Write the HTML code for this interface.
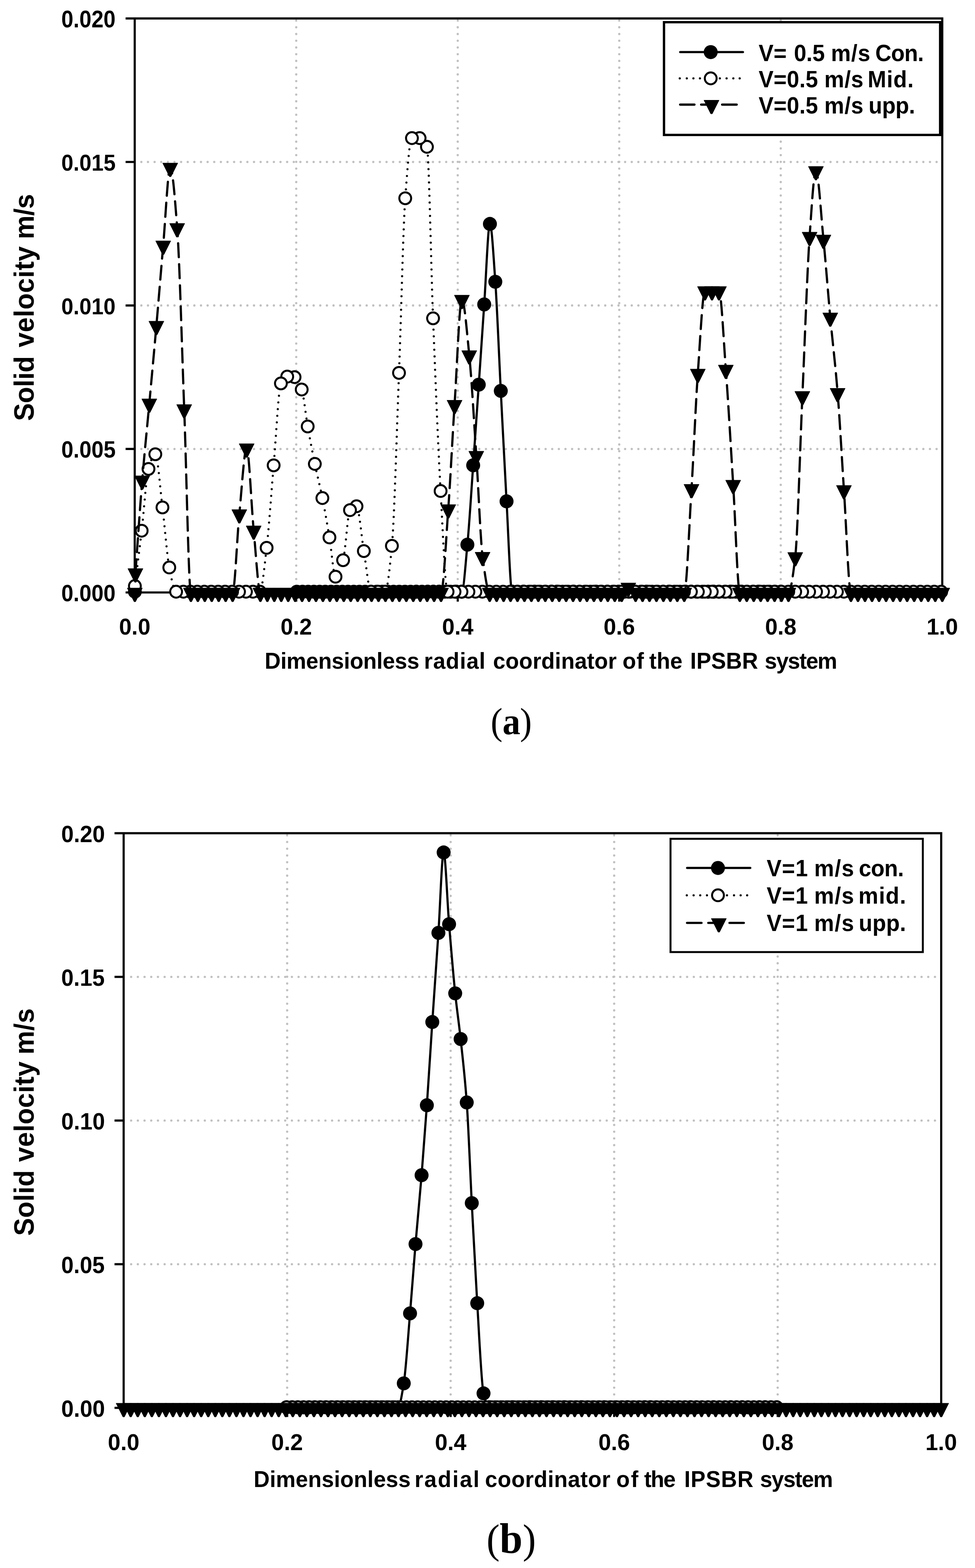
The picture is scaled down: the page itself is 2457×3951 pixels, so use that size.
<!DOCTYPE html>
<html lang="en"><head><meta charset="utf-8"><title>Solid velocity vs dimensionless radial coordinator of the IPSBR system</title>
<style>html,body{margin:0;padding:0;background:#fff}svg{display:block}text{fill:#000}</style></head><body>
<svg width="2457" height="3951" viewBox="0 0 2457 3951">
<rect width="2457" height="3951" fill="#fff"/>
<g id="ca">
<clipPath id="clipca"><rect x="339.5" y="46.5" width="2035" height="1447.9"/></clipPath>
<path d="M356.19 408.1H2368.5M356.19 769.7H2368.5M356.19 1131.3H2368.5" fill="none" stroke="#c0c0c0" stroke-width="5.7" stroke-linecap="round" stroke-dasharray="0.01 16.69"/>
<path d="M746.5 1475.96V49M1153.5 1475.96V49M1560.5 1475.96V49M1967.5 1475.96V49" fill="none" stroke="#c0c0c0" stroke-width="5.7" stroke-linecap="round" stroke-dasharray="0.01 16.945"/>
<path d="M339.5 46.5V1492.9M316.5 46.5H2374.5M2374.5 43.8V1492.9M339.5 1492.9H2374.5M316.5 408.1H339.5M316.5 769.7H339.5M316.5 1131.3H339.5M316.5 1492.9H339.5M746.5 1492.9v23M1153.5 1492.9v23M1560.5 1492.9v23M1967.5 1492.9v23" fill="none" stroke="#000" stroke-width="5.4" stroke-linecap="butt"/>
<path d="M748 1491L1163.7 1491C1168.4 1491 1173.1 1421.39 1177.8 1372.4C1182.67 1321.68 1187.53 1240.74 1192.4 1172.4C1197.1 1106.4 1201.8 1037.82 1206.5 969.3C1211.07 902.72 1215.63 832.94 1220.2 767.1C1225 697.9 1229.8 564.2 1234.6 564.2C1239.13 564.2 1243.67 646.81 1248.2 710C1252.8 774.12 1257.4 894.97 1262 984.9C1266.83 1079.39 1271.67 1178.4 1276.5 1263.2C1281.2 1345.66 1285.9 1491 1290.6 1491L1967.5 1491" clip-path="url(#clipca)" fill="none" stroke="#000" stroke-width="5.5" stroke-linejoin="round"/>
<path d="M730.4 1491a17.6 17.6 0 1 0 35.2 0a17.6 17.6 0 1 0 -35.2 0zM744.73 1491a17.6 17.6 0 1 0 35.2 0a17.6 17.6 0 1 0 -35.2 0zM759.07 1491a17.6 17.6 0 1 0 35.2 0a17.6 17.6 0 1 0 -35.2 0zM773.4 1491a17.6 17.6 0 1 0 35.2 0a17.6 17.6 0 1 0 -35.2 0zM787.74 1491a17.6 17.6 0 1 0 35.2 0a17.6 17.6 0 1 0 -35.2 0zM802.07 1491a17.6 17.6 0 1 0 35.2 0a17.6 17.6 0 1 0 -35.2 0zM816.41 1491a17.6 17.6 0 1 0 35.2 0a17.6 17.6 0 1 0 -35.2 0zM830.74 1491a17.6 17.6 0 1 0 35.2 0a17.6 17.6 0 1 0 -35.2 0zM845.08 1491a17.6 17.6 0 1 0 35.2 0a17.6 17.6 0 1 0 -35.2 0zM859.41 1491a17.6 17.6 0 1 0 35.2 0a17.6 17.6 0 1 0 -35.2 0zM873.74 1491a17.6 17.6 0 1 0 35.2 0a17.6 17.6 0 1 0 -35.2 0zM888.08 1491a17.6 17.6 0 1 0 35.2 0a17.6 17.6 0 1 0 -35.2 0zM902.41 1491a17.6 17.6 0 1 0 35.2 0a17.6 17.6 0 1 0 -35.2 0zM916.75 1491a17.6 17.6 0 1 0 35.2 0a17.6 17.6 0 1 0 -35.2 0zM931.08 1491a17.6 17.6 0 1 0 35.2 0a17.6 17.6 0 1 0 -35.2 0zM945.42 1491a17.6 17.6 0 1 0 35.2 0a17.6 17.6 0 1 0 -35.2 0zM959.75 1491a17.6 17.6 0 1 0 35.2 0a17.6 17.6 0 1 0 -35.2 0zM974.09 1491a17.6 17.6 0 1 0 35.2 0a17.6 17.6 0 1 0 -35.2 0zM988.42 1491a17.6 17.6 0 1 0 35.2 0a17.6 17.6 0 1 0 -35.2 0zM1002.76 1491a17.6 17.6 0 1 0 35.2 0a17.6 17.6 0 1 0 -35.2 0zM1017.09 1491a17.6 17.6 0 1 0 35.2 0a17.6 17.6 0 1 0 -35.2 0zM1031.42 1491a17.6 17.6 0 1 0 35.2 0a17.6 17.6 0 1 0 -35.2 0zM1045.76 1491a17.6 17.6 0 1 0 35.2 0a17.6 17.6 0 1 0 -35.2 0zM1060.09 1491a17.6 17.6 0 1 0 35.2 0a17.6 17.6 0 1 0 -35.2 0zM1074.43 1491a17.6 17.6 0 1 0 35.2 0a17.6 17.6 0 1 0 -35.2 0zM1088.76 1491a17.6 17.6 0 1 0 35.2 0a17.6 17.6 0 1 0 -35.2 0zM1103.1 1491a17.6 17.6 0 1 0 35.2 0a17.6 17.6 0 1 0 -35.2 0zM1117.43 1491a17.6 17.6 0 1 0 35.2 0a17.6 17.6 0 1 0 -35.2 0zM1131.77 1491a17.6 17.6 0 1 0 35.2 0a17.6 17.6 0 1 0 -35.2 0zM1146.1 1491a17.6 17.6 0 1 0 35.2 0a17.6 17.6 0 1 0 -35.2 0zM1160.2 1372.4a17.6 17.6 0 1 0 35.2 0a17.6 17.6 0 1 0 -35.2 0zM1174.8 1172.4a17.6 17.6 0 1 0 35.2 0a17.6 17.6 0 1 0 -35.2 0zM1188.9 969.3a17.6 17.6 0 1 0 35.2 0a17.6 17.6 0 1 0 -35.2 0zM1202.6 767.1a17.6 17.6 0 1 0 35.2 0a17.6 17.6 0 1 0 -35.2 0zM1217 564.2a17.6 17.6 0 1 0 35.2 0a17.6 17.6 0 1 0 -35.2 0zM1230.6 710a17.6 17.6 0 1 0 35.2 0a17.6 17.6 0 1 0 -35.2 0zM1244.4 984.9a17.6 17.6 0 1 0 35.2 0a17.6 17.6 0 1 0 -35.2 0zM1258.9 1263.2a17.6 17.6 0 1 0 35.2 0a17.6 17.6 0 1 0 -35.2 0zM1273 1491a17.6 17.6 0 1 0 35.2 0a17.6 17.6 0 1 0 -35.2 0zM1287.1 1491a17.6 17.6 0 1 0 35.2 0a17.6 17.6 0 1 0 -35.2 0zM1301.2 1491a17.6 17.6 0 1 0 35.2 0a17.6 17.6 0 1 0 -35.2 0zM1315.31 1491a17.6 17.6 0 1 0 35.2 0a17.6 17.6 0 1 0 -35.2 0zM1329.41 1491a17.6 17.6 0 1 0 35.2 0a17.6 17.6 0 1 0 -35.2 0zM1343.51 1491a17.6 17.6 0 1 0 35.2 0a17.6 17.6 0 1 0 -35.2 0zM1357.61 1491a17.6 17.6 0 1 0 35.2 0a17.6 17.6 0 1 0 -35.2 0zM1371.71 1491a17.6 17.6 0 1 0 35.2 0a17.6 17.6 0 1 0 -35.2 0zM1385.82 1491a17.6 17.6 0 1 0 35.2 0a17.6 17.6 0 1 0 -35.2 0zM1399.92 1491a17.6 17.6 0 1 0 35.2 0a17.6 17.6 0 1 0 -35.2 0zM1414.02 1491a17.6 17.6 0 1 0 35.2 0a17.6 17.6 0 1 0 -35.2 0zM1428.12 1491a17.6 17.6 0 1 0 35.2 0a17.6 17.6 0 1 0 -35.2 0zM1442.22 1491a17.6 17.6 0 1 0 35.2 0a17.6 17.6 0 1 0 -35.2 0zM1456.33 1491a17.6 17.6 0 1 0 35.2 0a17.6 17.6 0 1 0 -35.2 0zM1470.43 1491a17.6 17.6 0 1 0 35.2 0a17.6 17.6 0 1 0 -35.2 0zM1484.53 1491a17.6 17.6 0 1 0 35.2 0a17.6 17.6 0 1 0 -35.2 0zM1498.63 1491a17.6 17.6 0 1 0 35.2 0a17.6 17.6 0 1 0 -35.2 0zM1512.74 1491a17.6 17.6 0 1 0 35.2 0a17.6 17.6 0 1 0 -35.2 0zM1526.84 1491a17.6 17.6 0 1 0 35.2 0a17.6 17.6 0 1 0 -35.2 0zM1540.94 1491a17.6 17.6 0 1 0 35.2 0a17.6 17.6 0 1 0 -35.2 0zM1555.04 1491a17.6 17.6 0 1 0 35.2 0a17.6 17.6 0 1 0 -35.2 0zM1569.14 1491a17.6 17.6 0 1 0 35.2 0a17.6 17.6 0 1 0 -35.2 0zM1583.25 1491a17.6 17.6 0 1 0 35.2 0a17.6 17.6 0 1 0 -35.2 0zM1597.35 1491a17.6 17.6 0 1 0 35.2 0a17.6 17.6 0 1 0 -35.2 0zM1611.45 1491a17.6 17.6 0 1 0 35.2 0a17.6 17.6 0 1 0 -35.2 0zM1625.55 1491a17.6 17.6 0 1 0 35.2 0a17.6 17.6 0 1 0 -35.2 0zM1639.65 1491a17.6 17.6 0 1 0 35.2 0a17.6 17.6 0 1 0 -35.2 0zM1653.76 1491a17.6 17.6 0 1 0 35.2 0a17.6 17.6 0 1 0 -35.2 0zM1667.86 1491a17.6 17.6 0 1 0 35.2 0a17.6 17.6 0 1 0 -35.2 0zM1681.96 1491a17.6 17.6 0 1 0 35.2 0a17.6 17.6 0 1 0 -35.2 0zM1696.06 1491a17.6 17.6 0 1 0 35.2 0a17.6 17.6 0 1 0 -35.2 0zM1710.16 1491a17.6 17.6 0 1 0 35.2 0a17.6 17.6 0 1 0 -35.2 0zM1724.27 1491a17.6 17.6 0 1 0 35.2 0a17.6 17.6 0 1 0 -35.2 0zM1738.37 1491a17.6 17.6 0 1 0 35.2 0a17.6 17.6 0 1 0 -35.2 0zM1752.47 1491a17.6 17.6 0 1 0 35.2 0a17.6 17.6 0 1 0 -35.2 0zM1766.57 1491a17.6 17.6 0 1 0 35.2 0a17.6 17.6 0 1 0 -35.2 0zM1780.68 1491a17.6 17.6 0 1 0 35.2 0a17.6 17.6 0 1 0 -35.2 0zM1794.78 1491a17.6 17.6 0 1 0 35.2 0a17.6 17.6 0 1 0 -35.2 0zM1808.88 1491a17.6 17.6 0 1 0 35.2 0a17.6 17.6 0 1 0 -35.2 0zM1822.98 1491a17.6 17.6 0 1 0 35.2 0a17.6 17.6 0 1 0 -35.2 0zM1837.08 1491a17.6 17.6 0 1 0 35.2 0a17.6 17.6 0 1 0 -35.2 0zM1851.19 1491a17.6 17.6 0 1 0 35.2 0a17.6 17.6 0 1 0 -35.2 0zM1865.29 1491a17.6 17.6 0 1 0 35.2 0a17.6 17.6 0 1 0 -35.2 0zM1879.39 1491a17.6 17.6 0 1 0 35.2 0a17.6 17.6 0 1 0 -35.2 0zM1893.49 1491a17.6 17.6 0 1 0 35.2 0a17.6 17.6 0 1 0 -35.2 0zM1907.59 1491a17.6 17.6 0 1 0 35.2 0a17.6 17.6 0 1 0 -35.2 0zM1921.7 1491a17.6 17.6 0 1 0 35.2 0a17.6 17.6 0 1 0 -35.2 0zM1935.8 1491a17.6 17.6 0 1 0 35.2 0a17.6 17.6 0 1 0 -35.2 0zM1949.9 1491a17.6 17.6 0 1 0 35.2 0a17.6 17.6 0 1 0 -35.2 0z" fill="#000"/>
<path d="M339.9 1476.7C345.6 1430.23 351.3 1386.2 357 1337.3C362.73 1288.12 368.47 1201.53 374.2 1181.6C379.93 1161.67 385.67 1144.6 391.4 1144.6C397.4 1144.6 403.4 1230.21 409.4 1278.6C415.13 1324.83 420.87 1400.88 426.6 1429.9C432.33 1458.92 438.07 1491 443.8 1491L654.86 1491C660.54 1491 666.22 1427.88 671.9 1380.4C677.8 1331.08 683.7 1240.49 689.6 1172.6C695.7 1102.4 701.8 978.14 707.9 966.1C713.2 955.64 718.5 948.9 723.8 948.9C729.97 948.9 736.13 949.41 742.3 950.3C748.3 951.17 754.3 965.26 760.3 981.5C765.33 995.12 770.37 1046.07 775.4 1074.6C781.4 1108.61 787.4 1139.85 793.4 1169C799.73 1199.77 806.07 1223.36 812.4 1255C818.33 1284.64 824.27 1318.67 830.2 1354.2C835.3 1384.74 840.4 1453.2 845.5 1453.2C851.87 1453.2 858.23 1432.93 864.6 1411.6C870.4 1392.17 876.2 1291.74 882 1285.4C887.47 1279.42 892.93 1275.7 898.4 1275.7C904.57 1275.7 910.73 1352.58 916.9 1388.6C922.99 1424.19 929.09 1491 935.18 1491L970.22 1491C976.01 1491 981.81 1435.93 987.6 1375.4C993.57 1313.06 999.53 1095.07 1005.5 939.6C1010.73 803.24 1015.97 570.72 1021.2 499.6C1026.83 423.04 1032.47 348 1038.1 348L1057.4 348C1063.57 348 1069.73 355.93 1075.9 370C1081.03 381.71 1086.17 672.65 1091.3 802.1C1097.63 961.81 1103.97 1125.12 1110.3 1237.2C1116.17 1341.02 1122.03 1491 1127.9 1491L2371.82 1491" clip-path="url(#clipca)" fill="none" stroke="#000" stroke-width="5.5" stroke-linecap="round" stroke-dasharray="0.01 16.85"/>
<g fill="#fff" stroke="#000" stroke-width="5.0">
<circle cx="2371.82" cy="1491" r="14.9"/>
<circle cx="2354.3" cy="1491" r="14.9"/>
<circle cx="2336.78" cy="1491" r="14.9"/>
<circle cx="2319.26" cy="1491" r="14.9"/>
<circle cx="2301.74" cy="1491" r="14.9"/>
<circle cx="2284.22" cy="1491" r="14.9"/>
<circle cx="2266.7" cy="1491" r="14.9"/>
<circle cx="2249.18" cy="1491" r="14.9"/>
<circle cx="2231.66" cy="1491" r="14.9"/>
<circle cx="2214.14" cy="1491" r="14.9"/>
<circle cx="2196.62" cy="1491" r="14.9"/>
<circle cx="2179.1" cy="1491" r="14.9"/>
<circle cx="2161.58" cy="1491" r="14.9"/>
<circle cx="2144.06" cy="1491" r="14.9"/>
<circle cx="2126.54" cy="1491" r="14.9"/>
<circle cx="2109.02" cy="1491" r="14.9"/>
<circle cx="2091.5" cy="1491" r="14.9"/>
<circle cx="2073.98" cy="1491" r="14.9"/>
<circle cx="2056.46" cy="1491" r="14.9"/>
<circle cx="2038.94" cy="1491" r="14.9"/>
<circle cx="2021.42" cy="1491" r="14.9"/>
<circle cx="2003.9" cy="1491" r="14.9"/>
<circle cx="1986.38" cy="1491" r="14.9"/>
<circle cx="1968.86" cy="1491" r="14.9"/>
<circle cx="1951.34" cy="1491" r="14.9"/>
<circle cx="1933.82" cy="1491" r="14.9"/>
<circle cx="1916.3" cy="1491" r="14.9"/>
<circle cx="1898.78" cy="1491" r="14.9"/>
<circle cx="1881.26" cy="1491" r="14.9"/>
<circle cx="1863.74" cy="1491" r="14.9"/>
<circle cx="1846.22" cy="1491" r="14.9"/>
<circle cx="1828.7" cy="1491" r="14.9"/>
<circle cx="1811.18" cy="1491" r="14.9"/>
<circle cx="1793.66" cy="1491" r="14.9"/>
<circle cx="1776.14" cy="1491" r="14.9"/>
<circle cx="1758.62" cy="1491" r="14.9"/>
<circle cx="1741.1" cy="1491" r="14.9"/>
<circle cx="1723.58" cy="1491" r="14.9"/>
<circle cx="1706.06" cy="1491" r="14.9"/>
<circle cx="1688.54" cy="1491" r="14.9"/>
<circle cx="1671.02" cy="1491" r="14.9"/>
<circle cx="1653.5" cy="1491" r="14.9"/>
<circle cx="1635.98" cy="1491" r="14.9"/>
<circle cx="1618.46" cy="1491" r="14.9"/>
<circle cx="1600.94" cy="1491" r="14.9"/>
<circle cx="1583.42" cy="1491" r="14.9"/>
<circle cx="1565.9" cy="1491" r="14.9"/>
<circle cx="1548.38" cy="1491" r="14.9"/>
<circle cx="1530.86" cy="1491" r="14.9"/>
<circle cx="1513.34" cy="1491" r="14.9"/>
<circle cx="1495.82" cy="1491" r="14.9"/>
<circle cx="1478.3" cy="1491" r="14.9"/>
<circle cx="1460.78" cy="1491" r="14.9"/>
<circle cx="1443.26" cy="1491" r="14.9"/>
<circle cx="1425.74" cy="1491" r="14.9"/>
<circle cx="1408.22" cy="1491" r="14.9"/>
<circle cx="1390.7" cy="1491" r="14.9"/>
<circle cx="1373.18" cy="1491" r="14.9"/>
<circle cx="1355.66" cy="1491" r="14.9"/>
<circle cx="1338.14" cy="1491" r="14.9"/>
<circle cx="1320.62" cy="1491" r="14.9"/>
<circle cx="1303.1" cy="1491" r="14.9"/>
<circle cx="1285.58" cy="1491" r="14.9"/>
<circle cx="1268.06" cy="1491" r="14.9"/>
<circle cx="1250.54" cy="1491" r="14.9"/>
<circle cx="1233.02" cy="1491" r="14.9"/>
<circle cx="1215.5" cy="1491" r="14.9"/>
<circle cx="1197.98" cy="1491" r="14.9"/>
<circle cx="1180.46" cy="1491" r="14.9"/>
<circle cx="1162.94" cy="1491" r="14.9"/>
<circle cx="1145.42" cy="1491" r="14.9"/>
<circle cx="1127.9" cy="1491" r="14.9"/>
<circle cx="1110.3" cy="1237.2" r="14.9"/>
<circle cx="1091.3" cy="802.1" r="14.9"/>
<circle cx="1075.9" cy="370" r="14.9"/>
<circle cx="1057.4" cy="348" r="14.9"/>
<circle cx="1038.1" cy="348" r="14.9"/>
<circle cx="1021.2" cy="499.6" r="14.9"/>
<circle cx="1005.5" cy="939.6" r="14.9"/>
<circle cx="987.6" cy="1375.4" r="14.9"/>
<circle cx="970.22" cy="1491" r="14.9"/>
<circle cx="952.7" cy="1491" r="14.9"/>
<circle cx="935.18" cy="1491" r="14.9"/>
<circle cx="916.9" cy="1388.6" r="14.9"/>
<circle cx="898.4" cy="1275.7" r="14.9"/>
<circle cx="882" cy="1285.4" r="14.9"/>
<circle cx="864.6" cy="1411.6" r="14.9"/>
<circle cx="845.5" cy="1453.2" r="14.9"/>
<circle cx="830.2" cy="1354.2" r="14.9"/>
<circle cx="812.4" cy="1255" r="14.9"/>
<circle cx="793.4" cy="1169" r="14.9"/>
<circle cx="775.4" cy="1074.6" r="14.9"/>
<circle cx="760.3" cy="981.5" r="14.9"/>
<circle cx="742.3" cy="950.3" r="14.9"/>
<circle cx="723.8" cy="948.9" r="14.9"/>
<circle cx="707.9" cy="966.1" r="14.9"/>
<circle cx="689.6" cy="1172.6" r="14.9"/>
<circle cx="671.9" cy="1380.4" r="14.9"/>
<circle cx="654.86" cy="1491" r="14.9"/>
<circle cx="637.34" cy="1491" r="14.9"/>
<circle cx="619.82" cy="1491" r="14.9"/>
<circle cx="602.3" cy="1491" r="14.9"/>
<circle cx="584.78" cy="1491" r="14.9"/>
<circle cx="567.26" cy="1491" r="14.9"/>
<circle cx="549.74" cy="1491" r="14.9"/>
<circle cx="532.22" cy="1491" r="14.9"/>
<circle cx="514.7" cy="1491" r="14.9"/>
<circle cx="497.18" cy="1491" r="14.9"/>
<circle cx="479.66" cy="1491" r="14.9"/>
<circle cx="462.14" cy="1491" r="14.9"/>
<circle cx="443.8" cy="1491" r="14.9"/>
<circle cx="426.6" cy="1429.9" r="14.9"/>
<circle cx="409.4" cy="1278.6" r="14.9"/>
<circle cx="391.4" cy="1144.6" r="14.9"/>
<circle cx="374.2" cy="1181.6" r="14.9"/>
<circle cx="357" cy="1337.3" r="14.9"/>
<circle cx="339.9" cy="1491" r="14.9"/>
<circle cx="339.9" cy="1476.7" r="14.9"/>
</g>
<path d="M341.3 1443.9C347 1365.97 352.7 1279 358.4 1210.1C364.37 1137.98 370.33 1081.33 376.3 1016.2C382.23 951.43 388.17 887.85 394.1 820.4C399.83 755.22 405.57 683.52 411.3 618.1C417.2 550.78 423.1 422 429 422C434.83 422 440.67 498.26 446.5 574.1C452.4 650.8 458.3 873.77 464.2 1030.5C469.83 1179.97 475.45 1492.9 481.08 1492.9L586.14 1492.9C591.79 1492.9 597.45 1352.53 603.1 1295.2C609.27 1232.67 615.43 1129.2 621.6 1129.2C627.5 1129.2 633.4 1275.13 639.3 1336.2C644.93 1394.44 650.55 1492.9 656.18 1492.9L1111.44 1492.9C1117.49 1492.9 1123.55 1365.14 1129.6 1282.7C1134.9 1210.52 1140.2 1101.04 1145.5 1019.7C1151.67 925.06 1157.83 754.9 1164 754.9C1170.17 754.9 1176.33 833.74 1182.5 894.6C1188.43 953.16 1194.37 1058.4 1200.3 1148.1C1205.57 1227.72 1210.83 1362.15 1216.1 1402.6C1222.07 1448.45 1228.04 1492.9 1234.01 1492.9L1566.7 1492.9C1572.27 1492.9 1577.83 1480.1 1583.4 1480.1C1589.51 1480.1 1595.61 1492.9 1601.72 1492.9L1724.29 1492.9C1730.39 1492.9 1736.5 1329.41 1742.6 1231.6C1747.9 1146.67 1753.2 1015.88 1758.5 941.1C1764.53 855.98 1770.57 733.1 1776.6 733.1L1811.8 733.1C1817.57 733.1 1823.33 854.72 1829.1 931C1835.27 1012.58 1841.43 1122.8 1847.6 1221.1C1853.19 1310.2 1858.78 1492.9 1864.37 1492.9L1986.94 1492.9C1992.63 1492.9 1998.31 1451.69 2004 1403.2C2010 1352.04 2016 1131.06 2022 997.3C2028.07 862.05 2034.13 681.92 2040.2 596.1C2045.5 521.12 2050.8 430.5 2056.1 430.5C2062.43 430.5 2068.77 539.11 2075.1 603.2C2080.83 661.22 2086.57 737.5 2092.3 799.5C2098.47 866.19 2104.63 913.61 2110.8 989.6C2116.1 1054.91 2121.4 1154.85 2126.7 1234.3C2132.6 1322.74 2138.5 1492.9 2144.4 1492.9L2374.5 1492.9" clip-path="url(#clipca)" fill="none" stroke="#000" stroke-width="5.6" stroke-linecap="round" stroke-dasharray="35 18"/>
<path d="M320.7 1481.8h38.2L341.7 1516.2h-3.8zM322.2 1432.8h38.2L343.2 1467.2h-3.8zM339.3 1199h38.2L360.3 1233.4h-3.8zM357.2 1005.1h38.2L378.2 1039.5h-3.8zM375 809.3h38.2L396 843.7h-3.8zM392.2 607h38.2L413.2 641.4h-3.8zM409.9 410.9h38.2L430.9 445.3h-3.8zM427.4 563h38.2L448.4 597.4h-3.8zM445.1 1019.4h38.2L466.1 1053.8h-3.8zM461.98 1481.8h38.2L482.98 1516.2h-3.8zM479.49 1481.8h38.2L500.49 1516.2h-3.8zM497 1481.8h38.2L518 1516.2h-3.8zM514.51 1481.8h38.2L535.51 1516.2h-3.8zM532.02 1481.8h38.2L553.02 1516.2h-3.8zM549.53 1481.8h38.2L570.53 1516.2h-3.8zM567.04 1481.8h38.2L588.04 1516.2h-3.8zM584 1284.1h38.2L605 1318.5h-3.8zM602.5 1118.1h38.2L623.5 1152.5h-3.8zM620.2 1325.1h38.2L641.2 1359.5h-3.8zM637.08 1481.8h38.2L658.08 1516.2h-3.8zM654.59 1481.8h38.2L675.59 1516.2h-3.8zM672.1 1481.8h38.2L693.1 1516.2h-3.8zM689.61 1481.8h38.2L710.61 1516.2h-3.8zM707.12 1481.8h38.2L728.12 1516.2h-3.8zM724.63 1481.8h38.2L745.63 1516.2h-3.8zM742.14 1481.8h38.2L763.14 1516.2h-3.8zM759.65 1481.8h38.2L780.65 1516.2h-3.8zM777.16 1481.8h38.2L798.16 1516.2h-3.8zM794.67 1481.8h38.2L815.67 1516.2h-3.8zM812.18 1481.8h38.2L833.18 1516.2h-3.8zM829.69 1481.8h38.2L850.69 1516.2h-3.8zM847.2 1481.8h38.2L868.2 1516.2h-3.8zM864.71 1481.8h38.2L885.71 1516.2h-3.8zM882.22 1481.8h38.2L903.22 1516.2h-3.8zM899.73 1481.8h38.2L920.73 1516.2h-3.8zM917.24 1481.8h38.2L938.24 1516.2h-3.8zM934.75 1481.8h38.2L955.75 1516.2h-3.8zM952.26 1481.8h38.2L973.26 1516.2h-3.8zM969.77 1481.8h38.2L990.77 1516.2h-3.8zM987.28 1481.8h38.2L1008.28 1516.2h-3.8zM1004.79 1481.8h38.2L1025.79 1516.2h-3.8zM1022.3 1481.8h38.2L1043.3 1516.2h-3.8zM1039.81 1481.8h38.2L1060.81 1516.2h-3.8zM1057.32 1481.8h38.2L1078.32 1516.2h-3.8zM1074.83 1481.8h38.2L1095.83 1516.2h-3.8zM1092.34 1481.8h38.2L1113.34 1516.2h-3.8zM1110.5 1271.6h38.2L1131.5 1306h-3.8zM1126.4 1008.6h38.2L1147.4 1043h-3.8zM1144.9 743.8h38.2L1165.9 778.2h-3.8zM1163.4 883.5h38.2L1184.4 917.9h-3.8zM1181.2 1137h38.2L1202.2 1171.4h-3.8zM1197 1391.5h38.2L1218 1425.9h-3.8zM1214.91 1481.8h38.2L1235.91 1516.2h-3.8zM1232.42 1481.8h38.2L1253.42 1516.2h-3.8zM1249.93 1481.8h38.2L1270.93 1516.2h-3.8zM1267.44 1481.8h38.2L1288.44 1516.2h-3.8zM1284.95 1481.8h38.2L1305.95 1516.2h-3.8zM1302.46 1481.8h38.2L1323.46 1516.2h-3.8zM1319.97 1481.8h38.2L1340.97 1516.2h-3.8zM1337.48 1481.8h38.2L1358.48 1516.2h-3.8zM1354.99 1481.8h38.2L1375.99 1516.2h-3.8zM1372.5 1481.8h38.2L1393.5 1516.2h-3.8zM1390.01 1481.8h38.2L1411.01 1516.2h-3.8zM1407.52 1481.8h38.2L1428.52 1516.2h-3.8zM1425.03 1481.8h38.2L1446.03 1516.2h-3.8zM1442.54 1481.8h38.2L1463.54 1516.2h-3.8zM1460.05 1481.8h38.2L1481.05 1516.2h-3.8zM1477.56 1481.8h38.2L1498.56 1516.2h-3.8zM1495.07 1481.8h38.2L1516.07 1516.2h-3.8zM1512.58 1481.8h38.2L1533.58 1516.2h-3.8zM1530.09 1481.8h38.2L1551.09 1516.2h-3.8zM1547.6 1481.8h38.2L1568.6 1516.2h-3.8zM1564.3 1469h38.2L1585.3 1503.4h-3.8zM1582.62 1481.8h38.2L1603.62 1516.2h-3.8zM1600.13 1481.8h38.2L1621.13 1516.2h-3.8zM1617.64 1481.8h38.2L1638.64 1516.2h-3.8zM1635.15 1481.8h38.2L1656.15 1516.2h-3.8zM1652.66 1481.8h38.2L1673.66 1516.2h-3.8zM1670.17 1481.8h38.2L1691.17 1516.2h-3.8zM1687.68 1481.8h38.2L1708.68 1516.2h-3.8zM1705.19 1481.8h38.2L1726.19 1516.2h-3.8zM1723.5 1220.5h38.2L1744.5 1254.9h-3.8zM1739.4 930h38.2L1760.4 964.4h-3.8zM1757.5 722h38.2L1778.5 756.4h-3.8zM1775.1 722h38.2L1796.1 756.4h-3.8zM1792.7 722h38.2L1813.7 756.4h-3.8zM1810 919.9h38.2L1831 954.3h-3.8zM1828.5 1210h38.2L1849.5 1244.4h-3.8zM1845.27 1481.8h38.2L1866.27 1516.2h-3.8zM1862.78 1481.8h38.2L1883.78 1516.2h-3.8zM1880.29 1481.8h38.2L1901.29 1516.2h-3.8zM1897.8 1481.8h38.2L1918.8 1516.2h-3.8zM1915.31 1481.8h38.2L1936.31 1516.2h-3.8zM1932.82 1481.8h38.2L1953.82 1516.2h-3.8zM1950.33 1481.8h38.2L1971.33 1516.2h-3.8zM1967.84 1481.8h38.2L1988.84 1516.2h-3.8zM1984.9 1392.1h38.2L2005.9 1426.5h-3.8zM2002.9 986.2h38.2L2023.9 1020.6h-3.8zM2021.1 585h38.2L2042.1 619.4h-3.8zM2037 419.4h38.2L2058 453.8h-3.8zM2056 592.1h38.2L2077 626.5h-3.8zM2073.2 788.4h38.2L2094.2 822.8h-3.8zM2091.7 978.5h38.2L2112.7 1012.9h-3.8zM2107.6 1223.2h38.2L2128.6 1257.6h-3.8zM2125.3 1481.8h38.2L2146.3 1516.2h-3.8zM2143 1481.8h38.2L2164 1516.2h-3.8zM2160.7 1481.8h38.2L2181.7 1516.2h-3.8zM2178.4 1481.8h38.2L2199.4 1516.2h-3.8zM2196.1 1481.8h38.2L2217.1 1516.2h-3.8zM2213.8 1481.8h38.2L2234.8 1516.2h-3.8zM2231.5 1481.8h38.2L2252.5 1516.2h-3.8zM2249.2 1481.8h38.2L2270.2 1516.2h-3.8zM2266.9 1481.8h38.2L2287.9 1516.2h-3.8zM2284.6 1481.8h38.2L2305.6 1516.2h-3.8zM2302.3 1481.8h38.2L2323.3 1516.2h-3.8zM2320 1481.8h38.2L2341 1516.2h-3.8zM2337.7 1481.8h38.2L2358.7 1516.2h-3.8zM2355.4 1481.8h38.2L2376.4 1516.2h-3.8z" fill="#000" stroke="#000" stroke-width="1.0" stroke-linejoin="round"/>
<rect x="1673.3" y="55.9" width="695.8" height="284.1" fill="#fff" stroke="#000" stroke-width="5.9"/>
<path d="M1714.1 131.3H1872.2" stroke="#000" stroke-width="5.5" stroke-linecap="round" fill="none"/>
<circle cx="1791" cy="131.3" r="17.6" fill="#000"/>
<path d="M1713 197.5h0.01M1730.7 197.5h0.01M1747.4 197.5h0.01M1763.8 197.5h0.01M1814 197.5h0.01M1831 197.5h0.01M1848 197.5h0.01M1864 197.5h0.01" stroke="#000" stroke-width="5.5" stroke-linecap="round" fill="none"/>
<circle cx="1791" cy="197.5" r="14.9" fill="#fff" stroke="#000" stroke-width="5.0"/>
<path d="M1714 263.6H1750M1766.9 263.6H1787.4M1819.8 263.6H1856.4" stroke="#000" stroke-width="5.6" stroke-linecap="round" fill="none"/>
<path d="M1773.9 252.5h38.2L1794.9 286.9h-3.8z" fill="#000" stroke="#000" stroke-width="1.0" stroke-linejoin="round"/>
<text transform="matrix(0.56300 0 0 0.59286 0 154)" x="3395.8 3462.73 3517.23 3553.55 3608.77 3636.17 3689.17 3719.25 3810 3839.62 3891.12 3917.67 3988.34 4047.88 4107.42" y="0" font-family="'Liberation Sans', Arial, Helvetica, sans-serif" font-weight="bold" font-size="100" xml:space="preserve">V= 0.5 m/s Con.</text>
<text transform="matrix(0.56300 0 0 0.59286 0 220.2)" x="3395.8 3462.83 3521.56 3577.5 3605.61 3658.61 3689.77 3779.99 3809.07 3860.57 3883.73 3969.05 3998.85 4061.95" y="0" font-family="'Liberation Sans', Arial, Helvetica, sans-serif" font-weight="bold" font-size="100" xml:space="preserve">V=0.5 m/s Mid.</text>
<text transform="matrix(0.56300 0 0 0.59286 0 286.2)" x="3395.8 3462.83 3521.56 3577.5 3605.61 3658.61 3689.77 3779.99 3809.07 3860.57 3887.61 3947.91 4008.22 4068.52" y="0" font-family="'Liberation Sans', Arial, Helvetica, sans-serif" font-weight="bold" font-size="100" xml:space="preserve">V=0.5 m/s upp.</text>
<text transform="matrix(0.54669 0 0 0.60282 154.41 68.7)" font-family="'Liberation Sans', Arial, Helvetica, sans-serif" font-weight="bold" font-size="100" xml:space="preserve">0.020</text>
<text transform="matrix(0.54754 0 0 0.58028 154.41 429.82)" font-family="'Liberation Sans', Arial, Helvetica, sans-serif" font-weight="bold" font-size="100" xml:space="preserve">0.015</text>
<text transform="matrix(0.54669 0 0 0.58169 154.41 792.02)" font-family="'Liberation Sans', Arial, Helvetica, sans-serif" font-weight="bold" font-size="100" xml:space="preserve">0.010</text>
<text transform="matrix(0.54754 0 0 0.58592 154.41 1152.61)" font-family="'Liberation Sans', Arial, Helvetica, sans-serif" font-weight="bold" font-size="100" xml:space="preserve">0.005</text>
<text transform="matrix(0.54669 0 0 0.58592 154.41 1515.31)" font-family="'Liberation Sans', Arial, Helvetica, sans-serif" font-weight="bold" font-size="100" xml:space="preserve">0.000</text>
<text transform="matrix(0.56870 0 0 0.58169 299.97 1598.92)" font-family="'Liberation Sans', Arial, Helvetica, sans-serif" font-weight="bold" font-size="100" xml:space="preserve">0.0</text>
<text transform="matrix(0.56870 0 0 0.58169 706.97 1598.92)" font-family="'Liberation Sans', Arial, Helvetica, sans-serif" font-weight="bold" font-size="100" xml:space="preserve">0.2</text>
<text transform="matrix(0.56870 0 0 0.58169 1113.97 1598.92)" font-family="'Liberation Sans', Arial, Helvetica, sans-serif" font-weight="bold" font-size="100" xml:space="preserve">0.4</text>
<text transform="matrix(0.56870 0 0 0.58169 1520.97 1598.92)" font-family="'Liberation Sans', Arial, Helvetica, sans-serif" font-weight="bold" font-size="100" xml:space="preserve">0.6</text>
<text transform="matrix(0.56870 0 0 0.58169 1927.97 1598.92)" font-family="'Liberation Sans', Arial, Helvetica, sans-serif" font-weight="bold" font-size="100" xml:space="preserve">0.8</text>
<text transform="matrix(0.56870 0 0 0.58169 2334.97 1598.92)" font-family="'Liberation Sans', Arial, Helvetica, sans-serif" font-weight="bold" font-size="100" xml:space="preserve">1.0</text>
<text transform="matrix(0.55800 0 0 0.57465 0 1684.5)" x="1195.29 1266.89 1294.06 1382.37 1437.37 1497.83 1552.83 1580 1640.47 1700.94 1728.11 1783.11 1838.11 1889.61 1915.01 1955.94 2013.56 2076.66 2106.46 2164.09 2184.59 2226.82 2282.69 2344.03 2405.37 2444.54 2505.88 2533.92 2595.25 2651.12 2684.68 2746.01 2783.51 2811.41 2874.39 2907.89 2931.8 2965.34 3026.67 3078.67 3116.98 3145 3211.94 3278.87 3351.33 3421.33 3453.49 3505.7 3557.91 3610.12 3640.02 3692.23" y="0" font-family="'Liberation Sans', Arial, Helvetica, sans-serif" font-weight="bold" font-size="100" xml:space="preserve">Dimensionless radial coordinator of the IPSBR system</text>
<text transform="matrix(0 -0.67500 0.71111 0 85.4 1108.7)" x="71.07 137.25 197.8 225.06 252.31 306.81 345.87 402.18 458.48 486.96 548.74 605.05 633.52 667.52 722.52 749.65 836.9 863.02" y="0" font-family="'Liberation Sans', Arial, Helvetica, sans-serif" font-weight="bold" font-size="100" xml:space="preserve">Solid velocity m/s</text>
</g>
<text transform="matrix(0.90000 0 0 0.94333 0 1850.09)" x="1373.78 1407 1455.78" y="0" font-family="'Liberation Serif', 'Times New Roman', serif" font-size="100">(<tspan font-weight="bold" font-size="100">a</tspan>)</text>
<g id="cb">
<clipPath id="clipcb"><rect x="311.6" y="2099.5" width="2060.2" height="1449.5"/></clipPath>
<path d="M330.47 2461.5H2365.8M330.47 2823.5H2365.8M330.47 3185.5H2365.8" fill="none" stroke="#c0c0c0" stroke-width="5.7" stroke-linecap="round" stroke-dasharray="0.01 16.87"/>
<path d="M723.64 3530.53V2102M1135.68 3530.53V2102M1547.72 3530.53V2102M1959.76 3530.53V2102" fill="none" stroke="#c0c0c0" stroke-width="5.7" stroke-linecap="round" stroke-dasharray="0.01 16.965"/>
<path d="M311.6 2099.5V3547.5M288.6 2099.5H2371.8M2371.8 2096.8V3547.5M311.6 3547.5H2371.8M288.6 2461.5H311.6M288.6 2823.5H311.6M288.6 3185.5H311.6M288.6 3547.5H311.6M723.64 3547.5v23M1135.68 3547.5v23M1547.72 3547.5v23M1959.76 3547.5v23" fill="none" stroke="#000" stroke-width="5.4" stroke-linecap="butt"/>
<path d="M722 3546L1003.1 3546C1007.9 3546 1012.7 3515 1017.5 3485.8C1022.77 3453.76 1028.03 3371.87 1033.3 3309.4C1037.9 3254.84 1042.5 3189.83 1047.1 3134.8C1052.2 3073.78 1057.3 3023.54 1062.4 2961.2C1066.83 2907.01 1071.27 2847.98 1075.7 2785C1080.27 2720.12 1084.83 2643.43 1089.4 2575.2C1094.53 2498.51 1099.67 2427.38 1104.8 2350.6C1109.2 2284.79 1113.6 2148 1118 2148C1122.57 2148 1127.13 2273.07 1131.7 2328.7C1136.83 2391.24 1141.97 2453.49 1147.1 2503C1151.67 2547.04 1156.23 2575.7 1160.8 2618.1C1165.93 2665.76 1171.07 2707.79 1176.2 2777.9C1180.43 2835.72 1184.67 2950.5 1188.9 3031.6C1193.47 3119.08 1198.03 3210.22 1202.6 3283.7C1207.9 3368.98 1213.2 3488.98 1218.5 3511C1223.3 3530.94 1228.1 3546 1232.9 3546L1957 3546" clip-path="url(#clipcb)" fill="none" stroke="#000" stroke-width="5.5" stroke-linejoin="round"/>
<path d="M704.4 3546a17.6 17.6 0 1 0 35.2 0a17.6 17.6 0 1 0 -35.2 0zM718.45 3546a17.6 17.6 0 1 0 35.2 0a17.6 17.6 0 1 0 -35.2 0zM732.51 3546a17.6 17.6 0 1 0 35.2 0a17.6 17.6 0 1 0 -35.2 0zM746.56 3546a17.6 17.6 0 1 0 35.2 0a17.6 17.6 0 1 0 -35.2 0zM760.62 3546a17.6 17.6 0 1 0 35.2 0a17.6 17.6 0 1 0 -35.2 0zM774.67 3546a17.6 17.6 0 1 0 35.2 0a17.6 17.6 0 1 0 -35.2 0zM788.73 3546a17.6 17.6 0 1 0 35.2 0a17.6 17.6 0 1 0 -35.2 0zM802.78 3546a17.6 17.6 0 1 0 35.2 0a17.6 17.6 0 1 0 -35.2 0zM816.84 3546a17.6 17.6 0 1 0 35.2 0a17.6 17.6 0 1 0 -35.2 0zM830.89 3546a17.6 17.6 0 1 0 35.2 0a17.6 17.6 0 1 0 -35.2 0zM844.95 3546a17.6 17.6 0 1 0 35.2 0a17.6 17.6 0 1 0 -35.2 0zM859 3546a17.6 17.6 0 1 0 35.2 0a17.6 17.6 0 1 0 -35.2 0zM873.06 3546a17.6 17.6 0 1 0 35.2 0a17.6 17.6 0 1 0 -35.2 0zM887.12 3546a17.6 17.6 0 1 0 35.2 0a17.6 17.6 0 1 0 -35.2 0zM901.17 3546a17.6 17.6 0 1 0 35.2 0a17.6 17.6 0 1 0 -35.2 0zM915.23 3546a17.6 17.6 0 1 0 35.2 0a17.6 17.6 0 1 0 -35.2 0zM929.28 3546a17.6 17.6 0 1 0 35.2 0a17.6 17.6 0 1 0 -35.2 0zM943.34 3546a17.6 17.6 0 1 0 35.2 0a17.6 17.6 0 1 0 -35.2 0zM957.39 3546a17.6 17.6 0 1 0 35.2 0a17.6 17.6 0 1 0 -35.2 0zM971.45 3546a17.6 17.6 0 1 0 35.2 0a17.6 17.6 0 1 0 -35.2 0zM985.5 3546a17.6 17.6 0 1 0 35.2 0a17.6 17.6 0 1 0 -35.2 0zM999.9 3485.8a17.6 17.6 0 1 0 35.2 0a17.6 17.6 0 1 0 -35.2 0zM1015.7 3309.4a17.6 17.6 0 1 0 35.2 0a17.6 17.6 0 1 0 -35.2 0zM1029.5 3134.8a17.6 17.6 0 1 0 35.2 0a17.6 17.6 0 1 0 -35.2 0zM1044.8 2961.2a17.6 17.6 0 1 0 35.2 0a17.6 17.6 0 1 0 -35.2 0zM1058.1 2785a17.6 17.6 0 1 0 35.2 0a17.6 17.6 0 1 0 -35.2 0zM1071.8 2575.2a17.6 17.6 0 1 0 35.2 0a17.6 17.6 0 1 0 -35.2 0zM1087.2 2350.6a17.6 17.6 0 1 0 35.2 0a17.6 17.6 0 1 0 -35.2 0zM1100.4 2148a17.6 17.6 0 1 0 35.2 0a17.6 17.6 0 1 0 -35.2 0zM1114.1 2328.7a17.6 17.6 0 1 0 35.2 0a17.6 17.6 0 1 0 -35.2 0zM1129.5 2503a17.6 17.6 0 1 0 35.2 0a17.6 17.6 0 1 0 -35.2 0zM1143.2 2618.1a17.6 17.6 0 1 0 35.2 0a17.6 17.6 0 1 0 -35.2 0zM1158.6 2777.9a17.6 17.6 0 1 0 35.2 0a17.6 17.6 0 1 0 -35.2 0zM1171.3 3031.6a17.6 17.6 0 1 0 35.2 0a17.6 17.6 0 1 0 -35.2 0zM1185 3283.7a17.6 17.6 0 1 0 35.2 0a17.6 17.6 0 1 0 -35.2 0zM1200.9 3511a17.6 17.6 0 1 0 35.2 0a17.6 17.6 0 1 0 -35.2 0zM1215.3 3546a17.6 17.6 0 1 0 35.2 0a17.6 17.6 0 1 0 -35.2 0zM1229.78 3546a17.6 17.6 0 1 0 35.2 0a17.6 17.6 0 1 0 -35.2 0zM1244.26 3546a17.6 17.6 0 1 0 35.2 0a17.6 17.6 0 1 0 -35.2 0zM1258.75 3546a17.6 17.6 0 1 0 35.2 0a17.6 17.6 0 1 0 -35.2 0zM1273.23 3546a17.6 17.6 0 1 0 35.2 0a17.6 17.6 0 1 0 -35.2 0zM1287.71 3546a17.6 17.6 0 1 0 35.2 0a17.6 17.6 0 1 0 -35.2 0zM1302.19 3546a17.6 17.6 0 1 0 35.2 0a17.6 17.6 0 1 0 -35.2 0zM1316.67 3546a17.6 17.6 0 1 0 35.2 0a17.6 17.6 0 1 0 -35.2 0zM1331.16 3546a17.6 17.6 0 1 0 35.2 0a17.6 17.6 0 1 0 -35.2 0zM1345.64 3546a17.6 17.6 0 1 0 35.2 0a17.6 17.6 0 1 0 -35.2 0zM1360.12 3546a17.6 17.6 0 1 0 35.2 0a17.6 17.6 0 1 0 -35.2 0zM1374.6 3546a17.6 17.6 0 1 0 35.2 0a17.6 17.6 0 1 0 -35.2 0zM1389.08 3546a17.6 17.6 0 1 0 35.2 0a17.6 17.6 0 1 0 -35.2 0zM1403.57 3546a17.6 17.6 0 1 0 35.2 0a17.6 17.6 0 1 0 -35.2 0zM1418.05 3546a17.6 17.6 0 1 0 35.2 0a17.6 17.6 0 1 0 -35.2 0zM1432.53 3546a17.6 17.6 0 1 0 35.2 0a17.6 17.6 0 1 0 -35.2 0zM1447.01 3546a17.6 17.6 0 1 0 35.2 0a17.6 17.6 0 1 0 -35.2 0zM1461.49 3546a17.6 17.6 0 1 0 35.2 0a17.6 17.6 0 1 0 -35.2 0zM1475.98 3546a17.6 17.6 0 1 0 35.2 0a17.6 17.6 0 1 0 -35.2 0zM1490.46 3546a17.6 17.6 0 1 0 35.2 0a17.6 17.6 0 1 0 -35.2 0zM1504.94 3546a17.6 17.6 0 1 0 35.2 0a17.6 17.6 0 1 0 -35.2 0zM1519.42 3546a17.6 17.6 0 1 0 35.2 0a17.6 17.6 0 1 0 -35.2 0zM1533.9 3546a17.6 17.6 0 1 0 35.2 0a17.6 17.6 0 1 0 -35.2 0zM1548.39 3546a17.6 17.6 0 1 0 35.2 0a17.6 17.6 0 1 0 -35.2 0zM1562.87 3546a17.6 17.6 0 1 0 35.2 0a17.6 17.6 0 1 0 -35.2 0zM1577.35 3546a17.6 17.6 0 1 0 35.2 0a17.6 17.6 0 1 0 -35.2 0zM1591.83 3546a17.6 17.6 0 1 0 35.2 0a17.6 17.6 0 1 0 -35.2 0zM1606.31 3546a17.6 17.6 0 1 0 35.2 0a17.6 17.6 0 1 0 -35.2 0zM1620.8 3546a17.6 17.6 0 1 0 35.2 0a17.6 17.6 0 1 0 -35.2 0zM1635.28 3546a17.6 17.6 0 1 0 35.2 0a17.6 17.6 0 1 0 -35.2 0zM1649.76 3546a17.6 17.6 0 1 0 35.2 0a17.6 17.6 0 1 0 -35.2 0zM1664.24 3546a17.6 17.6 0 1 0 35.2 0a17.6 17.6 0 1 0 -35.2 0zM1678.72 3546a17.6 17.6 0 1 0 35.2 0a17.6 17.6 0 1 0 -35.2 0zM1693.21 3546a17.6 17.6 0 1 0 35.2 0a17.6 17.6 0 1 0 -35.2 0zM1707.69 3546a17.6 17.6 0 1 0 35.2 0a17.6 17.6 0 1 0 -35.2 0zM1722.17 3546a17.6 17.6 0 1 0 35.2 0a17.6 17.6 0 1 0 -35.2 0zM1736.65 3546a17.6 17.6 0 1 0 35.2 0a17.6 17.6 0 1 0 -35.2 0zM1751.13 3546a17.6 17.6 0 1 0 35.2 0a17.6 17.6 0 1 0 -35.2 0zM1765.62 3546a17.6 17.6 0 1 0 35.2 0a17.6 17.6 0 1 0 -35.2 0zM1780.1 3546a17.6 17.6 0 1 0 35.2 0a17.6 17.6 0 1 0 -35.2 0zM1794.58 3546a17.6 17.6 0 1 0 35.2 0a17.6 17.6 0 1 0 -35.2 0zM1809.06 3546a17.6 17.6 0 1 0 35.2 0a17.6 17.6 0 1 0 -35.2 0zM1823.54 3546a17.6 17.6 0 1 0 35.2 0a17.6 17.6 0 1 0 -35.2 0zM1838.03 3546a17.6 17.6 0 1 0 35.2 0a17.6 17.6 0 1 0 -35.2 0zM1852.51 3546a17.6 17.6 0 1 0 35.2 0a17.6 17.6 0 1 0 -35.2 0zM1866.99 3546a17.6 17.6 0 1 0 35.2 0a17.6 17.6 0 1 0 -35.2 0zM1881.47 3546a17.6 17.6 0 1 0 35.2 0a17.6 17.6 0 1 0 -35.2 0zM1895.95 3546a17.6 17.6 0 1 0 35.2 0a17.6 17.6 0 1 0 -35.2 0zM1910.44 3546a17.6 17.6 0 1 0 35.2 0a17.6 17.6 0 1 0 -35.2 0zM1924.92 3546a17.6 17.6 0 1 0 35.2 0a17.6 17.6 0 1 0 -35.2 0zM1939.4 3546a17.6 17.6 0 1 0 35.2 0a17.6 17.6 0 1 0 -35.2 0z" fill="#000"/>
<path d="M722 3546L1957 3546" clip-path="url(#clipcb)" fill="none" stroke="#000" stroke-width="5.5" stroke-linecap="round" stroke-dasharray="0.01 16.85"/>
<g fill="#fff" stroke="#000" stroke-width="5.0">
<circle cx="1957" cy="3546" r="14.9"/>
<circle cx="1942.64" cy="3546" r="14.9"/>
<circle cx="1928.28" cy="3546" r="14.9"/>
<circle cx="1913.92" cy="3546" r="14.9"/>
<circle cx="1899.56" cy="3546" r="14.9"/>
<circle cx="1885.2" cy="3546" r="14.9"/>
<circle cx="1870.84" cy="3546" r="14.9"/>
<circle cx="1856.48" cy="3546" r="14.9"/>
<circle cx="1842.12" cy="3546" r="14.9"/>
<circle cx="1827.76" cy="3546" r="14.9"/>
<circle cx="1813.4" cy="3546" r="14.9"/>
<circle cx="1799.03" cy="3546" r="14.9"/>
<circle cx="1784.67" cy="3546" r="14.9"/>
<circle cx="1770.31" cy="3546" r="14.9"/>
<circle cx="1755.95" cy="3546" r="14.9"/>
<circle cx="1741.59" cy="3546" r="14.9"/>
<circle cx="1727.23" cy="3546" r="14.9"/>
<circle cx="1712.87" cy="3546" r="14.9"/>
<circle cx="1698.51" cy="3546" r="14.9"/>
<circle cx="1684.15" cy="3546" r="14.9"/>
<circle cx="1669.79" cy="3546" r="14.9"/>
<circle cx="1655.43" cy="3546" r="14.9"/>
<circle cx="1641.07" cy="3546" r="14.9"/>
<circle cx="1626.71" cy="3546" r="14.9"/>
<circle cx="1612.35" cy="3546" r="14.9"/>
<circle cx="1597.99" cy="3546" r="14.9"/>
<circle cx="1583.63" cy="3546" r="14.9"/>
<circle cx="1569.27" cy="3546" r="14.9"/>
<circle cx="1554.91" cy="3546" r="14.9"/>
<circle cx="1540.55" cy="3546" r="14.9"/>
<circle cx="1526.19" cy="3546" r="14.9"/>
<circle cx="1511.83" cy="3546" r="14.9"/>
<circle cx="1497.47" cy="3546" r="14.9"/>
<circle cx="1483.1" cy="3546" r="14.9"/>
<circle cx="1468.74" cy="3546" r="14.9"/>
<circle cx="1454.38" cy="3546" r="14.9"/>
<circle cx="1440.02" cy="3546" r="14.9"/>
<circle cx="1425.66" cy="3546" r="14.9"/>
<circle cx="1411.3" cy="3546" r="14.9"/>
<circle cx="1396.94" cy="3546" r="14.9"/>
<circle cx="1382.58" cy="3546" r="14.9"/>
<circle cx="1368.22" cy="3546" r="14.9"/>
<circle cx="1353.86" cy="3546" r="14.9"/>
<circle cx="1339.5" cy="3546" r="14.9"/>
<circle cx="1325.14" cy="3546" r="14.9"/>
<circle cx="1310.78" cy="3546" r="14.9"/>
<circle cx="1296.42" cy="3546" r="14.9"/>
<circle cx="1282.06" cy="3546" r="14.9"/>
<circle cx="1267.7" cy="3546" r="14.9"/>
<circle cx="1253.34" cy="3546" r="14.9"/>
<circle cx="1238.98" cy="3546" r="14.9"/>
<circle cx="1224.62" cy="3546" r="14.9"/>
<circle cx="1210.26" cy="3546" r="14.9"/>
<circle cx="1195.9" cy="3546" r="14.9"/>
<circle cx="1181.53" cy="3546" r="14.9"/>
<circle cx="1167.17" cy="3546" r="14.9"/>
<circle cx="1152.81" cy="3546" r="14.9"/>
<circle cx="1138.45" cy="3546" r="14.9"/>
<circle cx="1124.09" cy="3546" r="14.9"/>
<circle cx="1109.73" cy="3546" r="14.9"/>
<circle cx="1095.37" cy="3546" r="14.9"/>
<circle cx="1081.01" cy="3546" r="14.9"/>
<circle cx="1066.65" cy="3546" r="14.9"/>
<circle cx="1052.29" cy="3546" r="14.9"/>
<circle cx="1037.93" cy="3546" r="14.9"/>
<circle cx="1023.57" cy="3546" r="14.9"/>
<circle cx="1009.21" cy="3546" r="14.9"/>
<circle cx="994.85" cy="3546" r="14.9"/>
<circle cx="980.49" cy="3546" r="14.9"/>
<circle cx="966.13" cy="3546" r="14.9"/>
<circle cx="951.77" cy="3546" r="14.9"/>
<circle cx="937.41" cy="3546" r="14.9"/>
<circle cx="923.05" cy="3546" r="14.9"/>
<circle cx="908.69" cy="3546" r="14.9"/>
<circle cx="894.33" cy="3546" r="14.9"/>
<circle cx="879.97" cy="3546" r="14.9"/>
<circle cx="865.6" cy="3546" r="14.9"/>
<circle cx="851.24" cy="3546" r="14.9"/>
<circle cx="836.88" cy="3546" r="14.9"/>
<circle cx="822.52" cy="3546" r="14.9"/>
<circle cx="808.16" cy="3546" r="14.9"/>
<circle cx="793.8" cy="3546" r="14.9"/>
<circle cx="779.44" cy="3546" r="14.9"/>
<circle cx="765.08" cy="3546" r="14.9"/>
<circle cx="750.72" cy="3546" r="14.9"/>
<circle cx="736.36" cy="3546" r="14.9"/>
<circle cx="722" cy="3546" r="14.9"/>
</g>
<rect x="722" y="3553" width="1235" height="7" fill="#000"/>
<path d="M311.6 3547L2371.76 3547" clip-path="url(#clipcb)" fill="none" stroke="#000" stroke-width="5.6" stroke-linecap="round" stroke-dasharray="35 18"/>
<path d="M292.5 3535.9h38.2L313.5 3570.3h-3.8zM310.26 3535.9h38.2L331.26 3570.3h-3.8zM328.02 3535.9h38.2L349.02 3570.3h-3.8zM345.78 3535.9h38.2L366.78 3570.3h-3.8zM363.54 3535.9h38.2L384.54 3570.3h-3.8zM381.3 3535.9h38.2L402.3 3570.3h-3.8zM399.06 3535.9h38.2L420.06 3570.3h-3.8zM416.82 3535.9h38.2L437.82 3570.3h-3.8zM434.58 3535.9h38.2L455.58 3570.3h-3.8zM452.34 3535.9h38.2L473.34 3570.3h-3.8zM470.1 3535.9h38.2L491.1 3570.3h-3.8zM487.86 3535.9h38.2L508.86 3570.3h-3.8zM505.62 3535.9h38.2L526.62 3570.3h-3.8zM523.38 3535.9h38.2L544.38 3570.3h-3.8zM541.14 3535.9h38.2L562.14 3570.3h-3.8zM558.9 3535.9h38.2L579.9 3570.3h-3.8zM576.66 3535.9h38.2L597.66 3570.3h-3.8zM594.42 3535.9h38.2L615.42 3570.3h-3.8zM612.18 3535.9h38.2L633.18 3570.3h-3.8zM629.94 3535.9h38.2L650.94 3570.3h-3.8zM647.7 3535.9h38.2L668.7 3570.3h-3.8zM665.46 3535.9h38.2L686.46 3570.3h-3.8zM683.22 3535.9h38.2L704.22 3570.3h-3.8zM700.98 3535.9h38.2L721.98 3570.3h-3.8zM718.74 3535.9h38.2L739.74 3570.3h-3.8zM736.5 3535.9h38.2L757.5 3570.3h-3.8zM754.26 3535.9h38.2L775.26 3570.3h-3.8zM772.02 3535.9h38.2L793.02 3570.3h-3.8zM789.78 3535.9h38.2L810.78 3570.3h-3.8zM807.54 3535.9h38.2L828.54 3570.3h-3.8zM825.3 3535.9h38.2L846.3 3570.3h-3.8zM843.06 3535.9h38.2L864.06 3570.3h-3.8zM860.82 3535.9h38.2L881.82 3570.3h-3.8zM878.58 3535.9h38.2L899.58 3570.3h-3.8zM896.34 3535.9h38.2L917.34 3570.3h-3.8zM914.1 3535.9h38.2L935.1 3570.3h-3.8zM931.86 3535.9h38.2L952.86 3570.3h-3.8zM949.62 3535.9h38.2L970.62 3570.3h-3.8zM967.38 3535.9h38.2L988.38 3570.3h-3.8zM985.14 3535.9h38.2L1006.14 3570.3h-3.8zM1002.9 3535.9h38.2L1023.9 3570.3h-3.8zM1020.66 3535.9h38.2L1041.66 3570.3h-3.8zM1038.42 3535.9h38.2L1059.42 3570.3h-3.8zM1056.18 3535.9h38.2L1077.18 3570.3h-3.8zM1073.94 3535.9h38.2L1094.94 3570.3h-3.8zM1091.7 3535.9h38.2L1112.7 3570.3h-3.8zM1109.46 3535.9h38.2L1130.46 3570.3h-3.8zM1127.22 3535.9h38.2L1148.22 3570.3h-3.8zM1144.98 3535.9h38.2L1165.98 3570.3h-3.8zM1162.74 3535.9h38.2L1183.74 3570.3h-3.8zM1180.5 3535.9h38.2L1201.5 3570.3h-3.8zM1198.26 3535.9h38.2L1219.26 3570.3h-3.8zM1216.02 3535.9h38.2L1237.02 3570.3h-3.8zM1233.78 3535.9h38.2L1254.78 3570.3h-3.8zM1251.54 3535.9h38.2L1272.54 3570.3h-3.8zM1269.3 3535.9h38.2L1290.3 3570.3h-3.8zM1287.06 3535.9h38.2L1308.06 3570.3h-3.8zM1304.82 3535.9h38.2L1325.82 3570.3h-3.8zM1322.58 3535.9h38.2L1343.58 3570.3h-3.8zM1340.34 3535.9h38.2L1361.34 3570.3h-3.8zM1358.1 3535.9h38.2L1379.1 3570.3h-3.8zM1375.86 3535.9h38.2L1396.86 3570.3h-3.8zM1393.62 3535.9h38.2L1414.62 3570.3h-3.8zM1411.38 3535.9h38.2L1432.38 3570.3h-3.8zM1429.14 3535.9h38.2L1450.14 3570.3h-3.8zM1446.9 3535.9h38.2L1467.9 3570.3h-3.8zM1464.66 3535.9h38.2L1485.66 3570.3h-3.8zM1482.42 3535.9h38.2L1503.42 3570.3h-3.8zM1500.18 3535.9h38.2L1521.18 3570.3h-3.8zM1517.94 3535.9h38.2L1538.94 3570.3h-3.8zM1535.7 3535.9h38.2L1556.7 3570.3h-3.8zM1553.46 3535.9h38.2L1574.46 3570.3h-3.8zM1571.22 3535.9h38.2L1592.22 3570.3h-3.8zM1588.98 3535.9h38.2L1609.98 3570.3h-3.8zM1606.74 3535.9h38.2L1627.74 3570.3h-3.8zM1624.5 3535.9h38.2L1645.5 3570.3h-3.8zM1642.26 3535.9h38.2L1663.26 3570.3h-3.8zM1660.02 3535.9h38.2L1681.02 3570.3h-3.8zM1677.78 3535.9h38.2L1698.78 3570.3h-3.8zM1695.54 3535.9h38.2L1716.54 3570.3h-3.8zM1713.3 3535.9h38.2L1734.3 3570.3h-3.8zM1731.06 3535.9h38.2L1752.06 3570.3h-3.8zM1748.82 3535.9h38.2L1769.82 3570.3h-3.8zM1766.58 3535.9h38.2L1787.58 3570.3h-3.8zM1784.34 3535.9h38.2L1805.34 3570.3h-3.8zM1802.1 3535.9h38.2L1823.1 3570.3h-3.8zM1819.86 3535.9h38.2L1840.86 3570.3h-3.8zM1837.62 3535.9h38.2L1858.62 3570.3h-3.8zM1855.38 3535.9h38.2L1876.38 3570.3h-3.8zM1873.14 3535.9h38.2L1894.14 3570.3h-3.8zM1890.9 3535.9h38.2L1911.9 3570.3h-3.8zM1908.66 3535.9h38.2L1929.66 3570.3h-3.8zM1926.42 3535.9h38.2L1947.42 3570.3h-3.8zM1944.18 3535.9h38.2L1965.18 3570.3h-3.8zM1961.94 3535.9h38.2L1982.94 3570.3h-3.8zM1979.7 3535.9h38.2L2000.7 3570.3h-3.8zM1997.46 3535.9h38.2L2018.46 3570.3h-3.8zM2015.22 3535.9h38.2L2036.22 3570.3h-3.8zM2032.98 3535.9h38.2L2053.98 3570.3h-3.8zM2050.74 3535.9h38.2L2071.74 3570.3h-3.8zM2068.5 3535.9h38.2L2089.5 3570.3h-3.8zM2086.26 3535.9h38.2L2107.26 3570.3h-3.8zM2104.02 3535.9h38.2L2125.02 3570.3h-3.8zM2121.78 3535.9h38.2L2142.78 3570.3h-3.8zM2139.54 3535.9h38.2L2160.54 3570.3h-3.8zM2157.3 3535.9h38.2L2178.3 3570.3h-3.8zM2175.06 3535.9h38.2L2196.06 3570.3h-3.8zM2192.82 3535.9h38.2L2213.82 3570.3h-3.8zM2210.58 3535.9h38.2L2231.58 3570.3h-3.8zM2228.34 3535.9h38.2L2249.34 3570.3h-3.8zM2246.1 3535.9h38.2L2267.1 3570.3h-3.8zM2263.86 3535.9h38.2L2284.86 3570.3h-3.8zM2281.62 3535.9h38.2L2302.62 3570.3h-3.8zM2299.38 3535.9h38.2L2320.38 3570.3h-3.8zM2317.14 3535.9h38.2L2338.14 3570.3h-3.8zM2334.9 3535.9h38.2L2355.9 3570.3h-3.8zM2352.66 3535.9h38.2L2373.66 3570.3h-3.8z" fill="#000" stroke="#000" stroke-width="1.0" stroke-linejoin="round"/>
<rect x="1689.7" y="2113.6" width="635.8" height="285.4" fill="#fff" stroke="#000" stroke-width="4.9"/>
<path d="M1731.5 2187.1H1890.7" stroke="#000" stroke-width="5.5" stroke-linecap="round" fill="none"/>
<circle cx="1809.3" cy="2187.1" r="17.6" fill="#000"/>
<path d="M1730.7 2255.9h0.01M1747.9 2255.9h0.01M1764.6 2255.9h0.01M1781.5 2255.9h0.01M1832 2255.9h0.01M1849.7 2255.9h0.01M1866.4 2255.9h0.01M1882.8 2255.9h0.01" stroke="#000" stroke-width="5.5" stroke-linecap="round" fill="none"/>
<circle cx="1809.3" cy="2255.9" r="14.9" fill="#fff" stroke="#000" stroke-width="5.0"/>
<path d="M1731.4 2325.5H1767.8M1784.9 2325.5H1805.4M1838.3 2325.5H1874.4" stroke="#000" stroke-width="5.6" stroke-linecap="round" fill="none"/>
<path d="M1792.3 2314.4h38.2L1813.3 2348.8h-3.8z" fill="#000" stroke="#000" stroke-width="1.0" stroke-linejoin="round"/>
<text transform="matrix(0.56300 0 0 0.59286 0 2208)" x="3431.5 3500.17 3560.53 3600.53 3644.12 3736.02 3766.79 3818.29 3843.96 3898.41 3958.33 4018.25" y="0" font-family="'Liberation Sans', Arial, Helvetica, sans-serif" font-weight="bold" font-size="100" xml:space="preserve">V=1 m/s con.</text>
<text transform="matrix(0.56300 0 0 0.59286 0 2277.3)" x="3431.5 3500.17 3560.53 3600.53 3644.12 3736.02 3766.79 3818.29 3842.35 3933.78 3964.07 4027.67" y="0" font-family="'Liberation Sans', Arial, Helvetica, sans-serif" font-weight="bold" font-size="100" xml:space="preserve">V=1 m/s mid.</text>
<text transform="matrix(0.56300 0 0 0.59286 0 2346.1)" x="3431.5 3500.17 3560.53 3600.53 3644.12 3736.02 3766.79 3818.29 3843.91 3905.16 3966.42 4027.67" y="0" font-family="'Liberation Sans', Arial, Helvetica, sans-serif" font-weight="bold" font-size="100" xml:space="preserve">V=1 m/s upp.</text>
<text transform="matrix(0.56613 0 0 0.59155 154.34 2121.71)" font-family="'Liberation Sans', Arial, Helvetica, sans-serif" font-weight="bold" font-size="100" xml:space="preserve">0.20</text>
<text transform="matrix(0.56223 0 0 0.59155 154.35 2483.71)" font-family="'Liberation Sans', Arial, Helvetica, sans-serif" font-weight="bold" font-size="100" xml:space="preserve">0.15</text>
<text transform="matrix(0.56613 0 0 0.59155 154.34 2845.71)" font-family="'Liberation Sans', Arial, Helvetica, sans-serif" font-weight="bold" font-size="100" xml:space="preserve">0.10</text>
<text transform="matrix(0.56223 0 0 0.59155 154.35 3207.71)" font-family="'Liberation Sans', Arial, Helvetica, sans-serif" font-weight="bold" font-size="100" xml:space="preserve">0.05</text>
<text transform="matrix(0.56613 0 0 0.59155 154.34 3569.71)" font-family="'Liberation Sans', Arial, Helvetica, sans-serif" font-weight="bold" font-size="100" xml:space="preserve">0.00</text>
<text transform="matrix(0.57252 0 0 0.58310 271.81 3653.62)" font-family="'Liberation Sans', Arial, Helvetica, sans-serif" font-weight="bold" font-size="100" xml:space="preserve">0.0</text>
<text transform="matrix(0.57252 0 0 0.58310 683.85 3653.62)" font-family="'Liberation Sans', Arial, Helvetica, sans-serif" font-weight="bold" font-size="100" xml:space="preserve">0.2</text>
<text transform="matrix(0.57252 0 0 0.58310 1095.89 3653.62)" font-family="'Liberation Sans', Arial, Helvetica, sans-serif" font-weight="bold" font-size="100" xml:space="preserve">0.4</text>
<text transform="matrix(0.57252 0 0 0.58310 1507.93 3653.62)" font-family="'Liberation Sans', Arial, Helvetica, sans-serif" font-weight="bold" font-size="100" xml:space="preserve">0.6</text>
<text transform="matrix(0.57252 0 0 0.58310 1919.97 3653.62)" font-family="'Liberation Sans', Arial, Helvetica, sans-serif" font-weight="bold" font-size="100" xml:space="preserve">0.8</text>
<text transform="matrix(0.57252 0 0 0.58310 2332.01 3653.62)" font-family="'Liberation Sans', Arial, Helvetica, sans-serif" font-weight="bold" font-size="100" xml:space="preserve">1.0</text>
<text transform="matrix(0.55800 0 0 0.57042 0 3747.3)" x="1145.65 1218.12 1246.15 1335.32 1391.19 1452.52 1508.39 1536.42 1597.76 1659.09 1687.13 1742.99 1798.86 1850.36 1872.35 1916.44 1977.22 2043.47 2076.42 2137.21 2157.71 2190.62 2247.26 2309.37 2371.48 2411.42 2473.53 2502.34 2564.45 2621.08 2655.41 2717.52 2755.02 2783.1 2849.47 2882.97 2909.04 2938.64 2996.03 3048.03 3089.92 3119.37 3187.74 3256.11 3330 3400 3432.16 3484.8 3537.45 3590.09 3620.41 3673.06" y="0" font-family="'Liberation Sans', Arial, Helvetica, sans-serif" font-weight="bold" font-size="100" xml:space="preserve">Dimensionless radial coordinator of the IPSBR system</text>
<text transform="matrix(0 -0.67500 0.71111 0 85.2 3161.9)" x="71.07 137.95 199.21 227.17 255.13 309.63 346.76 402.77 458.78 486.96 548.44 604.45 632.64 666.33 721.33 747.72 836.68 864.5" y="0" font-family="'Liberation Sans', Arial, Helvetica, sans-serif" font-weight="bold" font-size="100" xml:space="preserve">Solid velocity m/s</text>
</g>
<text transform="matrix(1.00000 0 0 1.03889 0 3913.18)" x="1226.1 1259.06 1317.2" y="0" font-family="'Liberation Serif', 'Times New Roman', serif" font-size="100">(<tspan font-weight="bold" font-size="104">b</tspan>)</text>
</svg></body></html>
